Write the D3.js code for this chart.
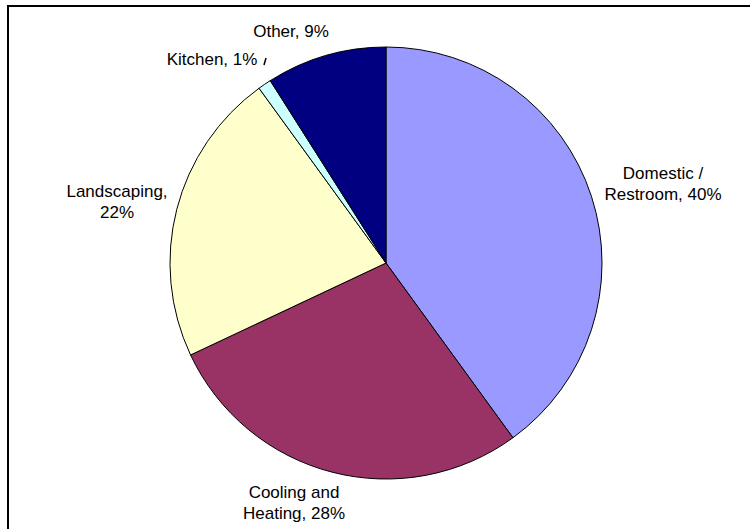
<!DOCTYPE html>
<html>
<head>
<meta charset="utf-8">
<script src="https://cdn.jsdelivr.net/npm/d3@7"></script>
<style>
  html, body { margin: 0; padding: 0; background: #fff; }
  svg { display: block; }
  text { font-family: "Liberation Sans", Arial, sans-serif; font-size: 17px; fill: #000; }
</style>
</head>
<body>
<svg id="chart" width="750" height="529"></svg>
<script>
// Water use by end use category (percent of total)
const categories = ["Domestic / Restroom", "Cooling and Heating", "Landscaping", "Kitchen", "Other"];
const shares = [40, 28, 22, 1, 9];
const colors = ["#9999FF", "#993366", "#FFFFCC", "#CCFFFF", "#000080"];
// Label text, one array of lines per slice
const labelLines = [
  ["Domestic /", "Restroom, 40%"],
  ["Cooling and", "Heating, 28%"],
  ["Landscaping,", "22%"],
  ["Kitchen, 1%"],
  ["Other, 9%"]
];

const svg = d3.select("#chart");
const cx = 386, cy = 263, R = 216;

// Chart area frame
svg.append("rect")
  .attr("x", 8).attr("y", 6)
  .attr("width", 760).attr("height", 560)
  .attr("fill", "#fff")
  .attr("stroke", "#000")
  .attr("stroke-width", 2);

const pie = d3.pie().sort(null).value(d => d)(shares);
const arc = d3.arc().innerRadius(0).outerRadius(R);

const g = svg.append("g").attr("transform", `translate(${cx},${cy})`);

g.selectAll("path.slice")
  .data(pie)
  .join("path")
  .attr("class", "slice")
  .attr("d", arc)
  .attr("fill", (d, i) => colors[i])
  .attr("stroke", "#000")
  .attr("stroke-width", 1);

// Label anchors (centre x, first baseline), relative to the pie centre
const labelAnchors = [
  [277, -84],
  [-92, 235],
  [-269, -66],
  [-174, -198],
  [-95, -226]
];
const lineH = 21;

labelLines.forEach((lines, i) => {
  const [x, y] = labelAnchors[i];
  const t = g.append("text")
    .attr("text-anchor", "middle")
    .attr("x", x)
    .attr("y", y);
  lines.forEach((ln, k) => {
    t.append("tspan").attr("x", x).attr("dy", k === 0 ? 0 : lineH).text(ln);
  });
});

// Short leader from the Kitchen label towards its slice
g.append("line")
  .attr("x1", -120).attr("y1", -205)
  .attr("x2", -122).attr("y2", -198)
  .attr("stroke", "#000").attr("stroke-width", 1.5);
</script>
</body>
</html>
